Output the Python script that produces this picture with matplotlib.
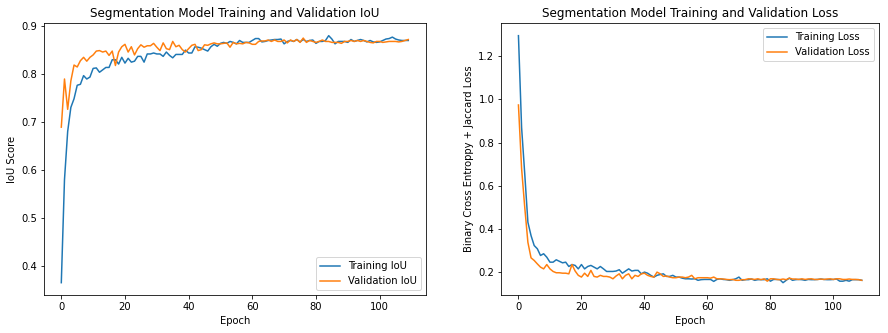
import numpy as np
import matplotlib
matplotlib.use("Agg")
import matplotlib.pyplot as plt

# values, one per epoch (0..109)
train_iou = [0.366, 0.58, 0.68, 0.73, 0.748, 0.776, 0.778, 0.796, 0.789, 0.793,
             0.811, 0.812, 0.803, 0.808, 0.813, 0.813, 0.829, 0.829, 0.820, 0.834,
             0.822, 0.832, 0.824, 0.826, 0.836, 0.836, 0.824, 0.841, 0.841, 0.843,
             0.841, 0.841, 0.836, 0.845, 0.838, 0.833, 0.840, 0.840, 0.840, 0.849,
             0.843, 0.843, 0.856, 0.855, 0.853, 0.850, 0.847, 0.856, 0.861, 0.857,
             0.863, 0.865, 0.863, 0.867, 0.865, 0.862, 0.869, 0.865, 0.865, 0.865,
             0.869, 0.873, 0.873, 0.866, 0.867, 0.869, 0.870, 0.871, 0.871, 0.872,
             0.862, 0.867, 0.869, 0.867, 0.871, 0.866, 0.871, 0.867, 0.869, 0.870,
             0.863, 0.867, 0.867, 0.869, 0.879, 0.872, 0.862, 0.867, 0.867, 0.867,
             0.865, 0.871, 0.867, 0.869, 0.871, 0.869, 0.866, 0.869, 0.866, 0.865,
             0.866, 0.869, 0.872, 0.873, 0.876, 0.872, 0.870, 0.869, 0.869, 0.869]
val_iou = [0.689, 0.789, 0.726, 0.785, 0.818, 0.814, 0.827, 0.834, 0.826, 0.834,
           0.839, 0.847, 0.848, 0.845, 0.847, 0.838, 0.847, 0.817, 0.845, 0.856,
           0.861, 0.845, 0.856, 0.839, 0.852, 0.860, 0.855, 0.858, 0.858, 0.863,
           0.855, 0.848, 0.864, 0.852, 0.850, 0.867, 0.856, 0.859, 0.850, 0.845,
           0.852, 0.859, 0.861, 0.848, 0.850, 0.860, 0.859, 0.862, 0.864, 0.862,
           0.862, 0.863, 0.864, 0.855, 0.865, 0.862, 0.863, 0.862, 0.865, 0.864,
           0.861, 0.861, 0.867, 0.868, 0.868, 0.870, 0.867, 0.870, 0.867, 0.867,
           0.870, 0.864, 0.870, 0.867, 0.871, 0.865, 0.874, 0.865, 0.869, 0.867,
           0.865, 0.867, 0.870, 0.867, 0.867, 0.865, 0.865, 0.865, 0.863, 0.867,
           0.867, 0.869, 0.867, 0.869, 0.867, 0.869, 0.867, 0.865, 0.864, 0.867,
           0.867, 0.865, 0.866, 0.867, 0.867, 0.867, 0.866, 0.867, 0.869, 0.871]

train_loss = [1.295, 0.87, 0.655, 0.431, 0.369, 0.323, 0.308, 0.277, 0.285, 0.269,
              0.246, 0.246, 0.257, 0.250, 0.243, 0.246, 0.226, 0.235, 0.231, 0.215,
              0.235, 0.215, 0.226, 0.231, 0.223, 0.215, 0.226, 0.215, 0.203, 0.203,
              0.203, 0.205, 0.211, 0.195, 0.205, 0.215, 0.205, 0.208, 0.208, 0.192,
              0.200, 0.195, 0.185, 0.177, 0.185, 0.189, 0.192, 0.180, 0.180, 0.185,
              0.177, 0.177, 0.172, 0.169, 0.169, 0.168, 0.169, 0.162, 0.165, 0.166,
              0.166, 0.166, 0.157, 0.166, 0.169, 0.166, 0.165, 0.162, 0.165, 0.169,
              0.177, 0.162, 0.165, 0.165, 0.168, 0.162, 0.165, 0.165, 0.165, 0.169,
              0.158, 0.166, 0.166, 0.165, 0.151, 0.162, 0.172, 0.162, 0.165, 0.166,
              0.165, 0.162, 0.166, 0.165, 0.165, 0.166, 0.168, 0.166, 0.165, 0.165,
              0.166, 0.168, 0.158, 0.158, 0.162, 0.158, 0.165, 0.165, 0.165, 0.162]
val_loss = [0.974, 0.68, 0.50, 0.338, 0.266, 0.254, 0.238, 0.223, 0.215, 0.235,
            0.215, 0.203, 0.197, 0.197, 0.195, 0.195, 0.192, 0.235, 0.205, 0.185,
            0.177, 0.195, 0.180, 0.208, 0.180, 0.177, 0.185, 0.180, 0.180, 0.177,
            0.169, 0.182, 0.192, 0.169, 0.185, 0.192, 0.169, 0.185, 0.180, 0.192,
            0.195, 0.185, 0.180, 0.177, 0.200, 0.192, 0.180, 0.182, 0.177, 0.174,
            0.174, 0.177, 0.177, 0.174, 0.177, 0.185, 0.169, 0.174, 0.174, 0.174,
            0.174, 0.172, 0.177, 0.169, 0.169, 0.168, 0.166, 0.165, 0.166, 0.162,
            0.162, 0.165, 0.165, 0.169, 0.168, 0.166, 0.169, 0.165, 0.169, 0.158,
            0.169, 0.169, 0.166, 0.165, 0.168, 0.165, 0.172, 0.168, 0.168, 0.166,
            0.169, 0.166, 0.168, 0.169, 0.166, 0.166, 0.168, 0.166, 0.168, 0.169,
            0.166, 0.169, 0.169, 0.166, 0.166, 0.168, 0.166, 0.166, 0.165, 0.162]

epochs = np.arange(len(train_iou))

fig = plt.figure(figsize=(888 / 72, 333 / 72), dpi=72)
ax1 = fig.add_axes([0.0495, 0.114, 0.4298, 0.816])
ax2 = fig.add_axes([0.5645, 0.114, 0.4253, 0.816])

ax1.plot(epochs, train_iou, label='Training IoU')
ax1.plot(epochs, val_iou, label='Validation IoU')
ax1.set_title('Segmentation Model Training and Validation IoU')
ax1.set_xlabel('Epoch')
ax1.set_ylabel('IoU Score')
ax1.legend(loc='lower right')

ax2.plot(epochs, train_loss, label='Training Loss')
ax2.plot(epochs, val_loss, label='Validation Loss')
ax2.set_title('Segmentation Model Training and Validation Loss')
ax2.set_xlabel('Epoch')
ax2.set_ylabel('Binary Cross Entroppy + Jaccard Loss')
ax2.legend(loc='upper right')

fig.savefig('out.png', dpi=72)
